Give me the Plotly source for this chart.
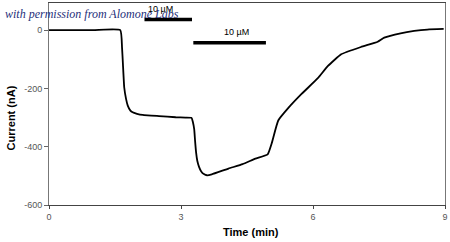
import plotly.graph_objects as go

# Time (min) and current (nA)
time_min = [0.0, 1.0, 1.62, 1.66, 1.68, 1.71, 1.75, 1.79, 1.85, 1.90, 2.0, 2.13, 2.5, 2.88, 3.1, 3.24,
            3.27, 3.30, 3.32, 3.345, 3.37, 3.41, 3.46, 3.52, 3.59, 3.7, 4.08, 4.4, 4.69, 4.97,
            5.06, 5.21, 5.44, 5.74, 6.11, 6.34, 6.64, 7.09, 7.47, 7.62, 7.99, 8.3, 8.6, 8.97]
current_nA = [0, 0, 0, -60, -116, -197, -235, -259, -276, -282, -287, -291, -295, -299, -300, -301,
              -315, -340, -380, -422, -448, -469, -485, -494, -498, -495, -475, -460, -441, -426,
              -389, -310, -267, -219, -165, -123, -83, -58, -40, -26, -11, -3, 2, 4]

# Drug application bars: (start, end, level) and labels
bar_labels = ["10 \u00b5M", "10 \u00b5M"]
bar_start = [2.17, 3.28]
bar_end = [3.25, 4.93]
bar_level = [36, -43]

xticks = [0, 3, 6, 9]
yticks = [0, -200, -400, -600]

fig = go.Figure()
fig.add_trace(go.Scatter(x=time_min, y=current_nA, mode="lines",
                         line=dict(color="black", width=1.8, shape="spline", smoothing=0.4),
                         showlegend=False, hoverinfo="skip"))
for s, e, lv in zip(bar_start, bar_end, bar_level):
    fig.add_trace(go.Scatter(x=[s, e], y=[lv, lv], mode="lines",
                             line=dict(color="black", width=3.5), showlegend=False, hoverinfo="skip"))
label_frac = [0.04, 0.39]
for s, e, lv, lab, f in zip(bar_start, bar_end, bar_level, bar_labels, label_frac):
    fig.add_annotation(x=s + f * (e - s), y=lv, text=lab, showarrow=False, yshift=11,
                       xanchor="left",
                       font=dict(family="Liberation Sans", size=9, color="black"))

fig.add_annotation(xref="paper", yref="paper", x=-0.115, y=0.26, xanchor="left", yanchor="bottom",
                   text="Current (nA)", textangle=-90, showarrow=False,
                   font=dict(family="Liberation Sans", size=11, color="black", weight="bold"))
fig.add_annotation(xref="paper", yref="paper", x=0.51, y=-0.095, xanchor="center", yanchor="top",
                   text="Time (min)", showarrow=False,
                   font=dict(family="Liberation Sans", size=11, color="black", weight="bold"))
fig.add_annotation(xref="paper", yref="paper", x=-0.115, y=0.945, xanchor="left", yanchor="middle",
                   text="<i>with permission from Alomone Labs</i>", showarrow=False,
                   font=dict(family="Liberation Serif", size=12, color="#1f2f7a"))

fig.update_xaxes(range=[0, 9], tickvals=xticks, ticktext=[str(v) for v in xticks],
                 showgrid=False, zeroline=False, showline=True, linecolor="#444", linewidth=1,
                 mirror=True, ticks="outside", ticklen=3, tickcolor="#444",
                 tickfont=dict(family="Liberation Sans", size=9, color="#555"))
fig.update_yaxes(range=[-600, 93], tickvals=yticks, ticktext=[str(v) for v in yticks],
                 showgrid=False, zeroline=False, showline=True, linecolor="#777", linewidth=1,
                 mirror=True, ticks="outside", ticklen=4, tickcolor="#666",
                 tickfont=dict(family="Liberation Sans", size=9, color="#555"))
fig.update_layout(width=450, height=242, margin=dict(l=49, r=3, t=2, b=37),
                  paper_bgcolor="white", plot_bgcolor="white")
fig.write_html("out.html")
